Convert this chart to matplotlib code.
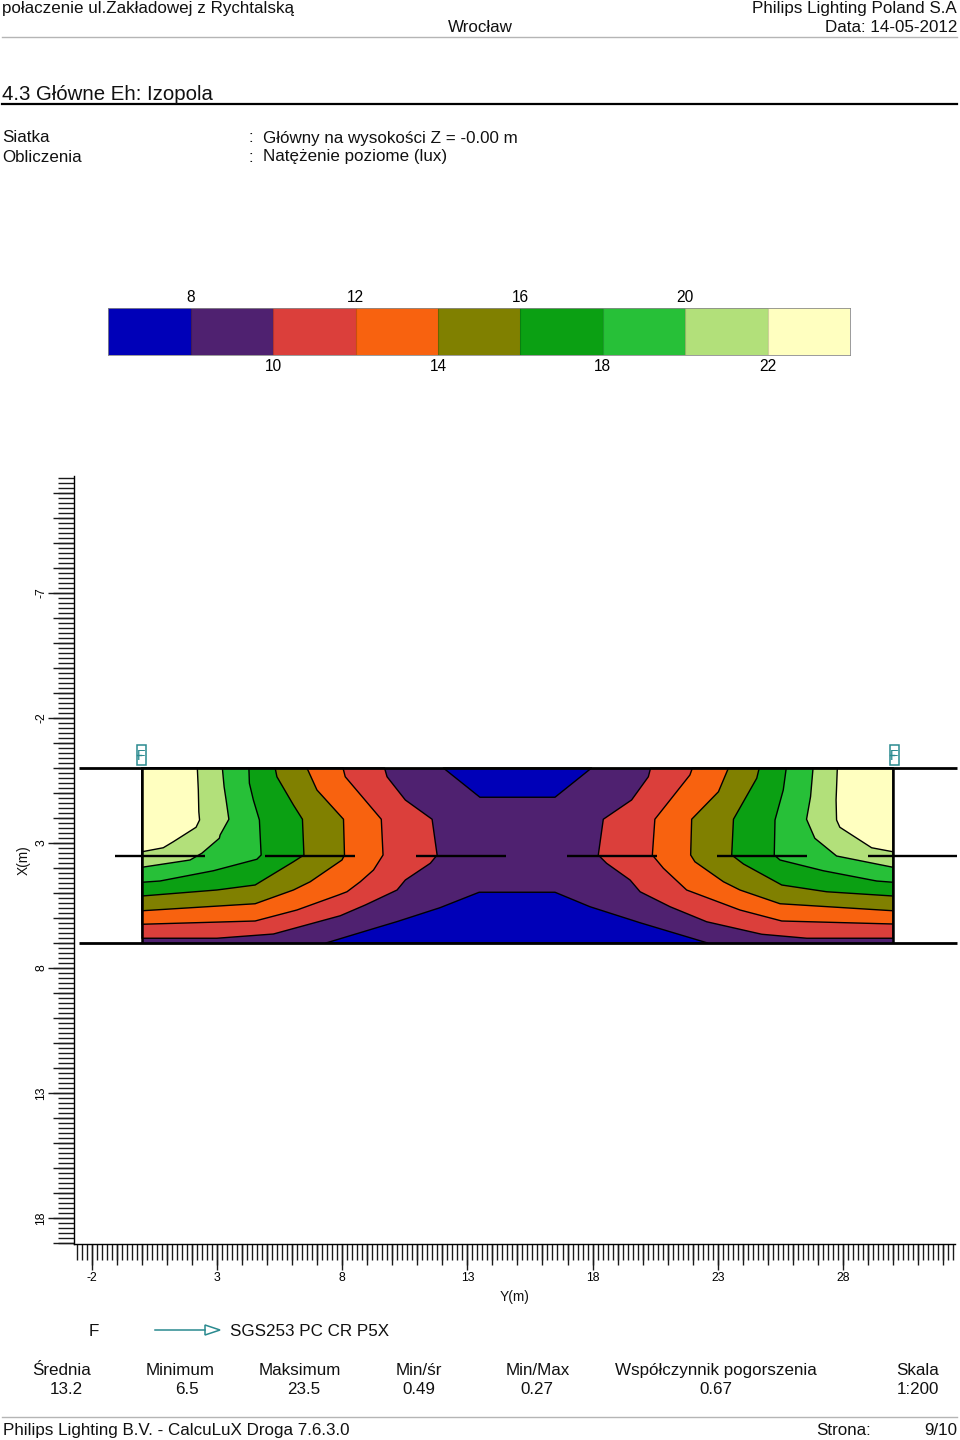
import numpy as np
import matplotlib
matplotlib.use("Agg")
import matplotlib.pyplot as plt
from matplotlib.patches import Rectangle, Polygon

plt.rcParams['font.family'] = ['Liberation Sans', 'DejaVu Sans']

# --- data ---------------------------------------------------------------
LEVELS = [8, 10, 12, 14, 16, 18, 20, 22]
BAND_COLORS = ['#0000b8', '#4f2170', '#db3f3b', '#f8620f', '#808000',
               '#0ba013', '#27c038', '#b2e07a', '#ffffc0']
SCALE_MIN, SCALE_MAX = 6, 24
ROAD_Y = (0, 30)
ROAD_X = (0, 7)
ARM_X = 3.5
ARMS = [(-1.08, 2.52), (4.91, 8.51), (10.95, 14.54), (16.98, 20.58), (22.97, 26.57), (29.0, 32.56)]
ROAD_EDGE_Y = (-2.52, 32.56)
YM_TICKS = [-2, 3, 8, 13, 18, 23, 28]
XM_TICKS = [-7, -2, 3, 8, 13, 18]

# isolines as (Y metres, X metres)
L22 = [(2.21, 0), (2.25, .88), (2.27, 1.75), (2.30, 2.08), (2.16, 2.37), (1.25, 2.95), (.85, 3.19), (0, 3.35)]
L20 = [(3.21, 0), (3.28, .75), (3.36, 1.28), (3.47, 2.05), (3.12, 2.68), (3.09, 2.81), (2.39, 3.41), (1.92, 3.68), (0, 3.97)]
L18 = [(4.27, 0), (4.29, .61), (4.45, 1.28), (4.69, 2.08), (4.76, 3.48), (4.59, 3.65), (2.85, 4.11), (.72, 4.52), (0, 4.57)]
L16 = [(5.32, 0), (5.39, .35), (6.05, 1.48), (6.41, 2.05), (6.47, 3.48), (6.05, 3.75), (4.52, 4.68), (2.99, 4.88), (0, 5.12)]
L14 = [(6.59, 0), (6.99, .88), (8.05, 2.05), (8.09, 3.48), (7.99, 3.68), (6.72, 4.55), (6.05, 4.88), (4.52, 5.43), (0, 5.71)]
L12 = [(8.03, 0), (8.12, .35), (9.56, 2.05), (9.63, 3.48), (9.25, 4.08), (8.72, 4.55), (8.19, 4.95), (7.85, 5.08), (6.19, 5.68), (4.52, 6.12), (0, 6.25)]
L10 = [(9.69, 0), (9.79, .35), (10.52, 1.28), (11.59, 2.05), (11.79, 3.48), (11.52, 3.81), (10.52, 4.48), (10.19, 4.88), (8.92, 5.48), (7.92, 5.91), (5.25, 6.64), (2.99, 6.81), (0, 6.81)]

R22 = [(27.78, 0), (27.73, 1.28), (27.75, 2.08), (27.88, 2.37), (29.15, 3.19), (30, 3.35)]
R20 = [(26.81, 0), (26.71, 1.15), (26.55, 2.05), (26.88, 2.81), (27.75, 3.52), (30, 3.97)]
R18 = [(25.74, 0), (25.62, .88), (25.29, 2.08), (25.26, 3.48), (25.49, 3.68), (27.22, 4.11), (29.35, 4.52), (30, 4.57)]
R16 = [(24.66, 0), (24.56, .41), (23.63, 2.05), (23.56, 3.48), (24.03, 3.84), (25.56, 4.68), (27.35, 4.95), (30, 5.12)]
R14 = [(23.43, 0), (23.03, .95), (21.96, 2.05), (21.92, 3.48), (22.09, 3.75), (23.23, 4.55), (23.89, 4.88), (25.49, 5.43), (30, 5.71)]
R12 = [(21.99, 0), (21.89, .28), (20.49, 2.05), (20.39, 3.48), (20.83, 4.01), (21.76, 4.88), (23.89, 5.68), (25.56, 6.12), (30, 6.24)]
R10 = [(20.32, 0), (20.23, .35), (19.56, 1.28), (18.43, 2.05), (18.23, 3.48), (18.56, 3.81), (19.5, 4.48), (19.9, 4.95), (21.1, 5.55), (22.56, 6.15), (24.76, 6.65), (26.56, 6.81), (30, 6.81)]

BLUE_TOP = [(12.04, 0), (13.50, 1.17), (16.5, 1.17), (17.96, 0)]
BLUE_BOTTOM = [(7.35, 7), (9.5, 6.35), (10.17, 6.15), (11.9, 5.59), (13.47, 4.97), (16.5, 4.97), (17.9, 5.55), (19.9, 6.19), (21.0, 6.52), (22.6, 7)]

STAT_NAMES = ['Średnia', 'Minimum', 'Maksimum', 'Min/śr', 'Min/Max', 'Współczynnik pogorszenia', 'Skala']
STAT_VALUES = ['13.2', '6.5', '23.5', '0.49', '0.27', '0.67', '1:200']

# --- layout helpers -----------------------------------------------------
W, H = 960, 1440
fig = plt.figure(figsize=(W / 100, H / 100), dpi=100)


def axes_px(l, t, r, b, **kw):
    return fig.add_axes([l / W, 1 - b / H, (r - l) / W, (b - t) / H], **kw)


# --- main plot ----------------------------------------------------------
ax = axes_px(74, 476, 955, 1244)
ax.set_xlim((74 - 142) / 25.03, (955 - 142) / 25.03)
ax.set_ylim((1244 - 768) / 25, (476 - 768) / 25)
for s in ('top', 'right'):
    ax.spines[s].set_visible(False)
for s in ('left', 'bottom'):
    ax.spines[s].set_linewidth(1.0)

EDGE = dict(edgecolor='black', linewidth=1.0, joinstyle='round')
ax.add_patch(Rectangle((ROAD_Y[0], ROAD_X[0]), ROAD_Y[1] - ROAD_Y[0], ROAD_X[1] - ROAD_X[0],
                       facecolor=BAND_COLORS[1], edgecolor='none', zorder=1))
ax.add_patch(Polygon(BLUE_TOP, closed=True, facecolor=BAND_COLORS[0], zorder=2, **EDGE))
ax.add_patch(Polygon(BLUE_BOTTOM, closed=True, facecolor=BAND_COLORS[0], zorder=2, **EDGE))

z = 3
for i, (lft, rgt) in enumerate([(L10, R10), (L12, R12), (L14, R14), (L16, R16),
                                (L18, R18), (L20, R20), (L22, R22)]):
    col = BAND_COLORS[i + 2]
    ax.add_patch(Polygon([(ROAD_Y[0], ROAD_X[0])] + lft, closed=True, facecolor=col, zorder=z, **EDGE))
    ax.add_patch(Polygon([(ROAD_Y[1], ROAD_X[0])] + rgt, closed=True, facecolor=col, zorder=z, **EDGE))
    z += 1

ax.hlines(list(ROAD_X), ROAD_EDGE_Y[0], ROAD_EDGE_Y[1], color='black', lw=2, zorder=20, clip_on=False)
ax.vlines(list(ROAD_Y), ROAD_X[0], ROAD_X[1], color='black', lw=1.8, zorder=20)
for a, b in ARMS:
    ax.plot([a, b], [ARM_X, ARM_X], color='black', lw=1.7, zorder=21, clip_on=False, solid_capstyle='butt')

TC = '#1a1a1a'
x_lo, x_hi = ax.get_xlim()
y_hi, y_lo = ax.get_ylim()
ax.set_xticks(YM_TICKS)
ax.set_xticklabels([str(v) for v in YM_TICKS], fontsize=8.8)
ax.set_yticks(XM_TICKS)
ax.set_yticklabels([str(v) for v in XM_TICKS], fontsize=8.8, rotation=90, va='center')
ax.set_xticks(np.arange(-2.6, x_hi, 0.2), minor=True)
ax.set_yticks(np.arange(-11.6, y_hi, 0.2), minor=True)
ax.tick_params(axis='x', which='major', length=18.7, width=1.0, pad=1.5, color=TC)
ax.tick_params(axis='y', which='major', length=18.7, width=1.0, pad=0.5, color=TC)
ax.tick_params(axis='both', which='minor', length=11.5, width=1.0, color=TC)

secx = ax.secondary_xaxis('bottom')
secx.set_xticks(np.arange(-2, x_hi, 1.0))
secx.set_xticklabels([])
secx.tick_params(length=15, width=1.0, color=TC)
secx.spines['bottom'].set_visible(False)
secy = ax.secondary_yaxis('left')
secy.set_yticks(np.arange(-11, y_hi, 1.0))
secy.set_yticklabels([])
secy.tick_params(length=15, width=1.0, color=TC)
secy.spines['left'].set_visible(False)

# --- colour scale -------------------------------------------------------
cax = axes_px(108.4, 308, 850, 355)
cax.set_xlim(SCALE_MIN, SCALE_MAX)
cax.set_ylim(0, 1)
edges = [SCALE_MIN] + LEVELS + [SCALE_MAX]
cax.bar(edges[:-1], 1, width=np.diff(edges), align='edge', color=BAND_COLORS, edgecolor='none')
cax.vlines(LEVELS, 0, 1, color='#00000030', lw=0.8)
cax.set_xticks(LEVELS[1::2])
cax.set_xticklabels([str(v) for v in LEVELS[1::2]], fontsize=11.2)
cax.tick_params(axis='x', length=0, pad=3)
cax.set_yticks([])
for s in cax.spines.values():
    s.set_linewidth(0.6)
    s.set_color('#8a8a8a')
for v in LEVELS[0::2]:
    cax.annotate(str(v), (v, 1), xytext=(0, 2), textcoords='offset points',
                 ha='center', va='bottom', fontsize=11.2)

# --- page furniture -----------------------------------------------------
ov = axes_px(0, 0, W, H, zorder=30)
ov.set_xlim(0, W)
ov.set_ylim(H, 0)
ov.axis('off')
ov.patch.set_alpha(0)


def T(x, y, s, size=12.25, ha='left', **kw):
    ov.text(x, y, s, fontsize=size, ha=ha, va='center', color='#111111', **kw)


T(2.5, 9, 'połaczenie ul.Zakładowej z Rychtalską')
T(957, 9, 'Philips Lighting Poland S.A', ha='right')
T(480, 28, 'Wrocław', ha='center')
T(957, 28, 'Data: 14-05-2012', ha='right')
ov.plot([2, 957], [37, 37], color='#b5b5b5', lw=1)

T(2.5, 94.5, '4.3 Główne Eh: Izopola', size=14.7)
ov.plot([2, 957], [104, 104], color='black', lw=1.6)

T(2, 138, 'Siatka')
T(248, 138, ':')
T(263, 138, 'Główny na wysokości Z = -0.00 m')
T(2, 157, 'Obliczenia')
T(248, 157, ':')
T(263, 157, 'Natężenie poziome (lux)')

TEAL = '#2a8a8f'
for cx in (141, 894):
    ov.add_patch(Rectangle((cx - 4.5, 745), 9, 20, fill=False, edgecolor=TEAL, lw=1.1))
    ov.plot([cx - 4.5, cx], [755, 755], color=TEAL, lw=1)
    ov.text(cx + 0.5, 755.5, 'F', fontsize=10, color=TEAL, ha='center', va='center')

T(515, 1297, 'Y(m)', size=9.9, ha='center')
T(24, 860, 'X(m)', size=9.9, ha='center', rotation=90)

T(89, 1331, 'F')
ov.plot([155, 205], [1330, 1330], color=TEAL, lw=1.1)
ov.add_patch(Polygon([[205, 1325], [220, 1330], [205, 1335]], closed=True, fill=False, edgecolor=TEAL, lw=1.1))
T(230, 1331, 'SGS253 PC CR P5X')

for cx, name in zip([62, 180.5, 300, 419, 537.5, 716, 918], STAT_NAMES):
    T(cx, 1370.5, name, ha='center')
for cx, val in zip([66.5, 187, 304, 419, 537, 716, 918], STAT_VALUES):
    T(cx, 1390, val, ha='center')

ov.plot([2, 957], [1417, 1417], color='#b5b5b5', lw=1)
T(3, 1430.5, 'Philips Lighting B.V. - CalcuLuX Droga 7.6.3.0')
T(816, 1430.5, 'Strona:')
T(957, 1430.5, '9/10', ha='right')

fig.savefig('out.png', dpi=100)
